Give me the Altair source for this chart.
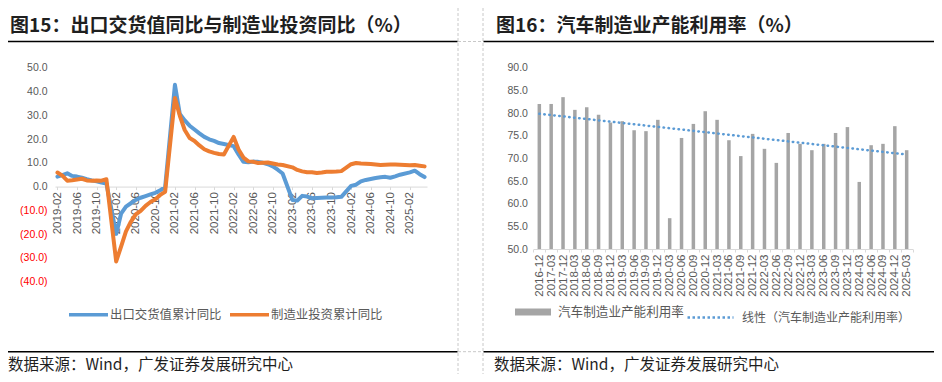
import altair as alt
import pandas as pd

# ---------------- data ----------------
S1 = "出口交货值累计同比"
S2 = "制造业投资累计同比"
export_yoy = [
    4.2, 4.8, 5.6, 4.5, 4.2, 3.7, 3.1, 2.6, 2.2, 1.7, 1.3,
    -19.9, -11.4, -8.4, -7.0, -5.6, -4.7, -4.0, -3.3, -2.6, -1.5, -0.3,
    42.8, 30.5, 27.8, 25.6, 24.0, 22.4, 20.9, 19.9, 19.2, 18.3, 17.9,
    17.0, 13.5, 10.4, 10.2, 10.5, 10.4, 10.0, 9.4, 8.5, 7.1, 5.5,
    -5.6, -5.9, -3.9, -4.2, -4.9, -4.8, -4.7, -4.6, -4.6, -4.5, -4.3,
    0.3, 0.8, 2.2, 2.8, 3.2, 3.6, 3.9, 4.1, 3.7, 4.3, 5.0,
    6.0, 6.7, 5.2, 4.0,
]
mfg_yoy = [
    5.9, 4.6, 2.5, 2.7, 3.0, 3.3, 2.6, 2.5, 2.6, 2.5, 3.1,
    -31.5, -25.2, -18.8, -14.8, -11.7, -10.2, -8.1, -6.5, -5.3, -3.5, -2.2,
    37.3, 29.8, 23.8, 20.4, 19.2, 17.3, 15.7, 14.8, 14.2, 13.7, 13.5,
    20.9, 15.6, 12.2, 10.6, 10.4, 9.9, 10.0, 10.1, 9.7, 9.3, 9.1,
    8.1, 7.0, 6.4, 6.0, 6.0, 5.7, 5.9, 6.2, 6.2, 6.3, 6.5,
    9.4, 9.9, 9.7, 9.6, 9.5, 9.3, 9.1, 9.2, 9.3, 9.3, 9.2,
    9.0, 9.1, 8.8, 8.5,
]
month_domain = [f"{y}-{m:02d}" for y in range(2019, 2026) for m in range(1, 13)
                if "2019-02" <= f"{y}-{m:02d}" <= "2025-05"]
data_months = [m for m in month_domain if not m.endswith("-01")]
x_tick_labels = ["2019-02", "2019-06", "2019-10", "2020-02", "2020-06", "2020-10",
                 "2021-02", "2021-06", "2021-10", "2022-02", "2022-06", "2022-10",
                 "2023-02", "2023-06", "2023-10", "2024-02", "2024-06", "2024-10",
                 "2025-02"]

S3 = "汽车制造业产能利用率"
quarters = ["2016-12", "2017-03", "2017-12", "2018-03", "2018-06", "2018-09", "2018-12",
            "2019-03", "2019-06", "2019-09", "2019-12", "2020-03", "2020-06", "2020-09",
            "2020-12", "2021-03", "2021-06", "2021-09", "2021-12", "2022-03", "2022-06",
            "2022-09", "2022-12", "2023-03", "2023-06", "2023-09", "2023-12", "2024-03",
            "2024-06", "2024-09", "2024-12", "2025-03"]
auto_util = [82.0, 82.0, 83.5, 80.7, 81.3, 79.6, 77.9, 78.2, 76.2, 76.0, 78.5, 56.8,
             74.5, 77.6, 80.4, 78.5, 74.0, 70.5, 75.4, 72.1, 69.0, 75.6, 73.2, 71.8,
             73.2, 75.6, 76.9, 64.8, 72.9, 73.2, 77.1, 71.8]

left_df = pd.DataFrame({
    "month": data_months + data_months,
    "value": export_yoy + mfg_yoy,
    "series": [S1] * len(data_months) + [S2] * len(data_months),
})
right_df = pd.DataFrame({
    "quarter": quarters,
    "idx": list(range(len(quarters))),
    "value": auto_util,
    "series": [S3] * len(quarters),
})

# ---------------- layout (chart coords = page - 8) ----------------
W, H = 926, 366
def px(v):
    return v - 8
def py(v):
    return v - 8

BLUE, ORANGE, BAR = "#5b9bd5", "#ed7d31", "#a5a5a5"
LBL, AX = "#595959", "#d9d9d9"
CJK = "Noto Sans CJK SC"
NUMF = "Liberation Sans"

LX0, LX1 = px(55), px(427)
LYT, LYB = py(67.7), py(281.7)
zero_y = LYT + (LYB - LYT) * 50 / 90
RX0, RX1 = px(533.4), px(912.6)
RYT, RYB = py(67.7), py(249.0)

left_lines = alt.Chart(left_df).mark_line(
    strokeWidth=4, strokeJoin="round", strokeCap="round"
).encode(
    x=alt.X("month:O",
            scale=alt.Scale(type="point", domain=month_domain, range=[LX0, LX1], padding=0.5),
            axis=alt.Axis(orient="bottom", offset=zero_y - H, values=x_tick_labels,
                          labelAngle=-90, labelFont=NUMF, labelFontSize=11.5,
                          labelColor=LBL, domainColor=AX, tickColor=AX, tickSize=3,
                          labelPadding=2, grid=False, title=None)),
    y=alt.Y("value:Q",
            scale=alt.Scale(domain=[-40, 50], range=[LYB, LYT], nice=False, zero=False),
            axis=alt.Axis(orient="left", offset=-LX0, values=list(range(-40, 51, 10)),
                          labelExpr="datum.value < 0 ? '(' + format(-datum.value, '.1f') + ')' : format(datum.value, '.1f')",
                          labelColor={"condition": {"test": "datum.value < 0", "value": "#ff0000"},
                                      "value": LBL},
                          labelFont=NUMF, labelFontSize=10.5, domain=False, ticks=False,
                          grid=False, labelPadding=8, title=None)),
    color=alt.Color("series:N", scale=alt.Scale(domain=[S1, S2], range=[BLUE, ORANGE]),
                    legend=alt.Legend(orient="none", legendX=px(67), legendY=py(293),
                                      direction="horizontal", title=None,
                                      symbolType="stroke", symbolSize=39 ** 2,
                                      symbolStrokeWidth=3.5, labelFont=CJK,
                                      labelFontSize=12.4, labelColor=LBL, labelOffset=0,
                                      columnPadding=1, labelLimit=300, padding=0)),
)

right_bars = alt.Chart(right_df).mark_bar(size=3.5).encode(
    x=alt.X("quarter:O",
            scale=alt.Scale(type="band", domain=quarters, range=[RX0, RX1],
                            paddingInner=0, paddingOuter=0),
            axis=alt.Axis(orient="bottom", offset=RYB - H, labelAngle=-90,
                          labelFont=NUMF, labelFontSize=11.5, labelColor=LBL,
                          domainColor=AX, tickColor=AX, tickSize=3, tickBand="extent",
                          labelPadding=2, grid=False, title=None)),
    y=alt.Y("value:Q",
            scale=alt.Scale(domain=[50, 90], range=[RYB, RYT], nice=False, zero=False),
            axis=alt.Axis(orient="left", offset=-RX0, values=list(range(50, 91, 5)),
                          format=".1f", labelFont=NUMF, labelFontSize=10.5,
                          labelColor=LBL, domain=False, ticks=False, grid=False,
                          labelPadding=6, title=None)),
    y2=alt.datum(50),
    color=alt.Color("series:N", scale=alt.Scale(range=[BAR]),
                    legend=alt.Legend(orient="none", legendX=px(514), legendY=py(293),
                                      direction="horizontal", title=None,
                                      symbolType="M-1,-0.2H1V0.2H-1Z", symbolSize=36 ** 2,
                                      labelFont=CJK, labelFontSize=12.6, labelColor=LBL,
                                      labelOffset=6, labelLimit=300, padding=0)),
)

right_trend = alt.Chart(right_df).transform_regression(
    "idx", "value", groupby=["series"]
).transform_calculate(
    trend="'线性（' + datum.series + '）'"
).mark_line(strokeWidth=2.5, strokeDash=[0.5, 4.5], strokeCap="round").encode(
    x=alt.X("idx:Q", scale=alt.Scale(domain=[-0.5, len(quarters) - 0.5], range=[RX0, RX1],
                                      nice=False, zero=False), axis=None),
    y=alt.Y("value:Q", scale=alt.Scale(domain=[50, 90], range=[RYB, RYT], nice=False,
                                        zero=False), axis=None),
    color=alt.Color("trend:N", scale=alt.Scale(range=[BLUE]),
                    legend=alt.Legend(orient="none", legendX=px(686), legendY=py(293),
                                      direction="horizontal", title=None,
                                      symbolType="stroke", symbolSize=46 ** 2,
                                      symbolStrokeWidth=2.5, symbolDash=[2.5, 2.5],
                                      labelFont=CJK, labelFontSize=12, labelColor=LBL,
                                      labelOffset=7, labelLimit=300, padding=0)),
)

# ---------------- decorations ----------------
def dummy():
    return alt.Data(values=[{"k": 0}])

def hrule(x1, x2, y, color="#000000", width=1.5, dash=None):
    kw = {"color": color, "strokeWidth": width}
    if dash:
        kw["strokeDash"] = dash
    return alt.Chart(dummy()).mark_rule(**kw).encode(
        x=alt.value(x1), x2=alt.value(x2), y=alt.value(y))

def vrule(x, y1, y2, color, width=1, dash=None):
    kw = {"color": color, "strokeWidth": width}
    if dash:
        kw["strokeDash"] = dash
    return alt.Chart(dummy()).mark_rule(**kw).encode(
        x=alt.value(x), y=alt.value(y1), y2=alt.value(y2))

def label(s, x, y, size, weight="normal", color="#1f1f1f"):
    return alt.Chart(dummy()).mark_text(
        text=s, align="left", baseline="middle", font=CJK, fontSize=size,
        fontWeight=weight, color=color
    ).encode(x=alt.value(x), y=alt.value(y))

DASH = "#c8c8c8"
decos = [
    vrule(px(458), 0, H, DASH, 1, [3, 2]),
    vrule(px(483), 0, H, DASH, 1, [3, 2]),
    hrule(px(458), px(483), py(41.5), DASH, 1, [3, 2]),
    hrule(px(458), px(483), py(351.7), DASH, 1, [3, 2]),
    hrule(0, px(457.5), py(41.5)),
    hrule(px(483.5), W, py(41.5)),
    hrule(0, px(457.5), py(351.7)),
    hrule(px(483.5), W, py(351.7)),
    label("图15：出口交货值同比与制造业投资同比（%）", px(10), py(25.7), 19, "bold"),
    label("图16：汽车制造业产能利用率（%）", px(496), py(25.7), 19, "bold"),
    label("数据来源：Wind，广发证券发展研究中心", px(8), py(364.5), 15.5),
    label("数据来源：Wind，广发证券发展研究中心", px(494), py(364.5), 15.5),
]

chart = alt.layer(left_lines, right_bars, right_trend, *decos).resolve_scale(
    x="independent", y="independent", color="independent"
).resolve_axis(
    x="independent", y="independent"
).resolve_legend(
    color="independent"
).properties(
    width=W, height=H, padding=0, background="white",
    autosize=alt.AutoSizeParams(type="none"),
).configure_view(strokeWidth=0)

chart.save("out.html", embed_options={"renderer": "svg", "actions": False})
